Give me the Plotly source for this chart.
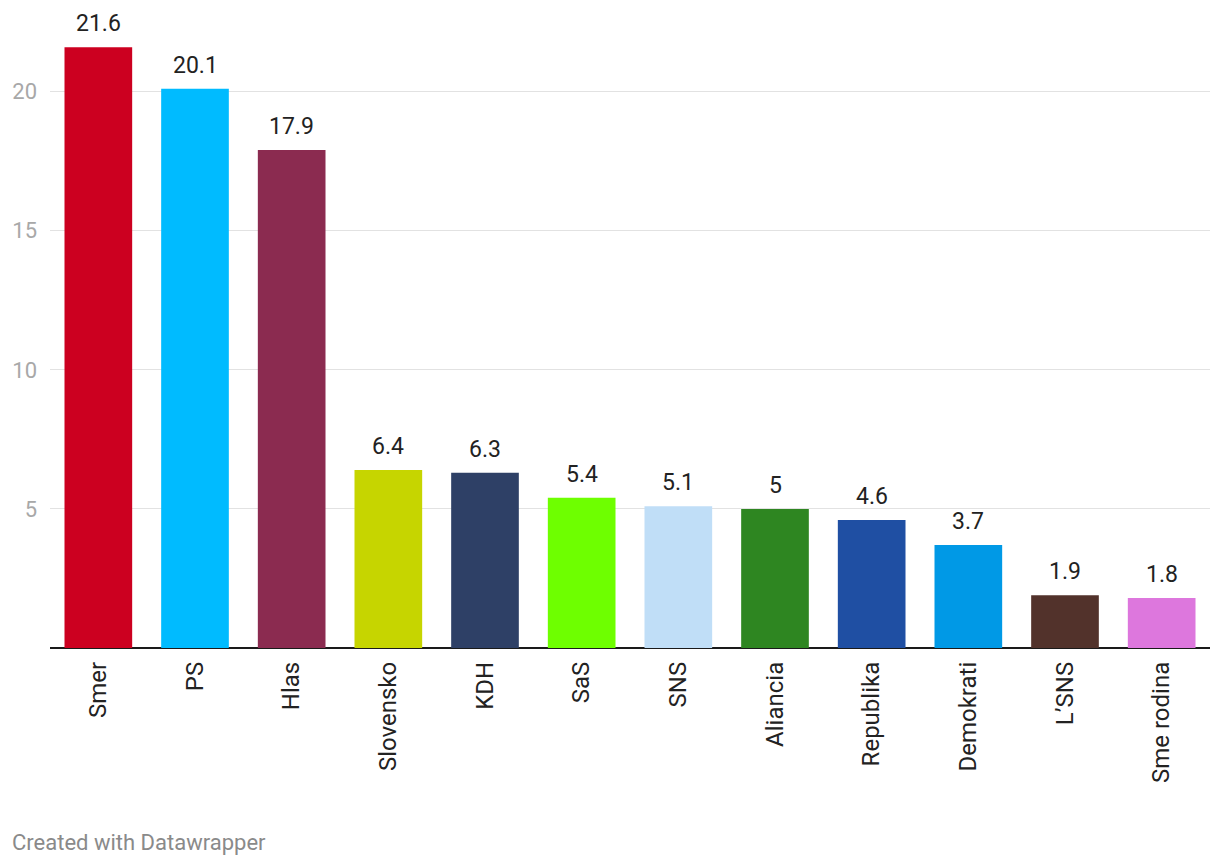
import plotly.graph_objects as go

parties = ["Smer", "PS", "Hlas", "Slovensko", "KDH", "SaS", "SNS", "Aliancia",
           "Republika", "Demokrati", "L\u2019SNS", "Sme rodina"]
values = [21.6, 20.1, 17.9, 6.4, 6.3, 5.4, 5.1, 5, 4.6, 3.7, 1.9, 1.8]
colors = ["#cc0020", "#00bbff", "#8b2b50", "#c6d500", "#2e4066", "#6eff00",
          "#c0def7", "#2e8621", "#1f4fa3", "#0099e6", "#52322b", "#dd77dd"]
y_ticks = [5, 10, 15, 20]

fig = go.Figure()
fig.add_trace(go.Bar(
    x=parties, y=values, marker=dict(color=colors, line=dict(width=0)),
    width=0.7, hoverinfo="skip", showlegend=False,
))

for p, v in zip(parties, values):
    fig.add_annotation(x=p, y=v, text=f"{v:g}", showarrow=False,
                       yanchor="bottom", yshift=8,
                       font=dict(family="Roboto", size=23, color="#222222"))

fig.add_annotation(xref="paper", yref="paper", x=-0.0345, y=-0.3186,
                   xanchor="left", yanchor="middle", showarrow=False,
                   text="Created with Datawrapper",
                   font=dict(family="Roboto", size=22, color="#8a8a8a"))

fig.update_layout(
    width=1212, height=858,
    margin=dict(l=42, r=10, t=28, b=218, autoexpand=False),
    paper_bgcolor="white", plot_bgcolor="white",
    font=dict(family="Roboto"),
    bargap=0.3,
    xaxis=dict(tickangle=-90, tickfont=dict(size=24, color="#222222"),
               showgrid=False, ticks="", showline=False, ticklabelstandoff=8,
               automargin=False, range=[-0.5, len(parties) - 0.5]),
    yaxis=dict(range=[0, 22], tickvals=y_ticks, ticktext=[str(t) for t in y_ticks],
               tickfont=dict(size=22, color="#a8a8a8"), automargin=False,
               showgrid=True, gridcolor="#e2e2e2", gridwidth=1,
               zeroline=True, zerolinecolor="#1a1a1a", zerolinewidth=2,
               showline=False, ticks="", ticklabelstandoff=12),
)

fig.write_html("out.html")
